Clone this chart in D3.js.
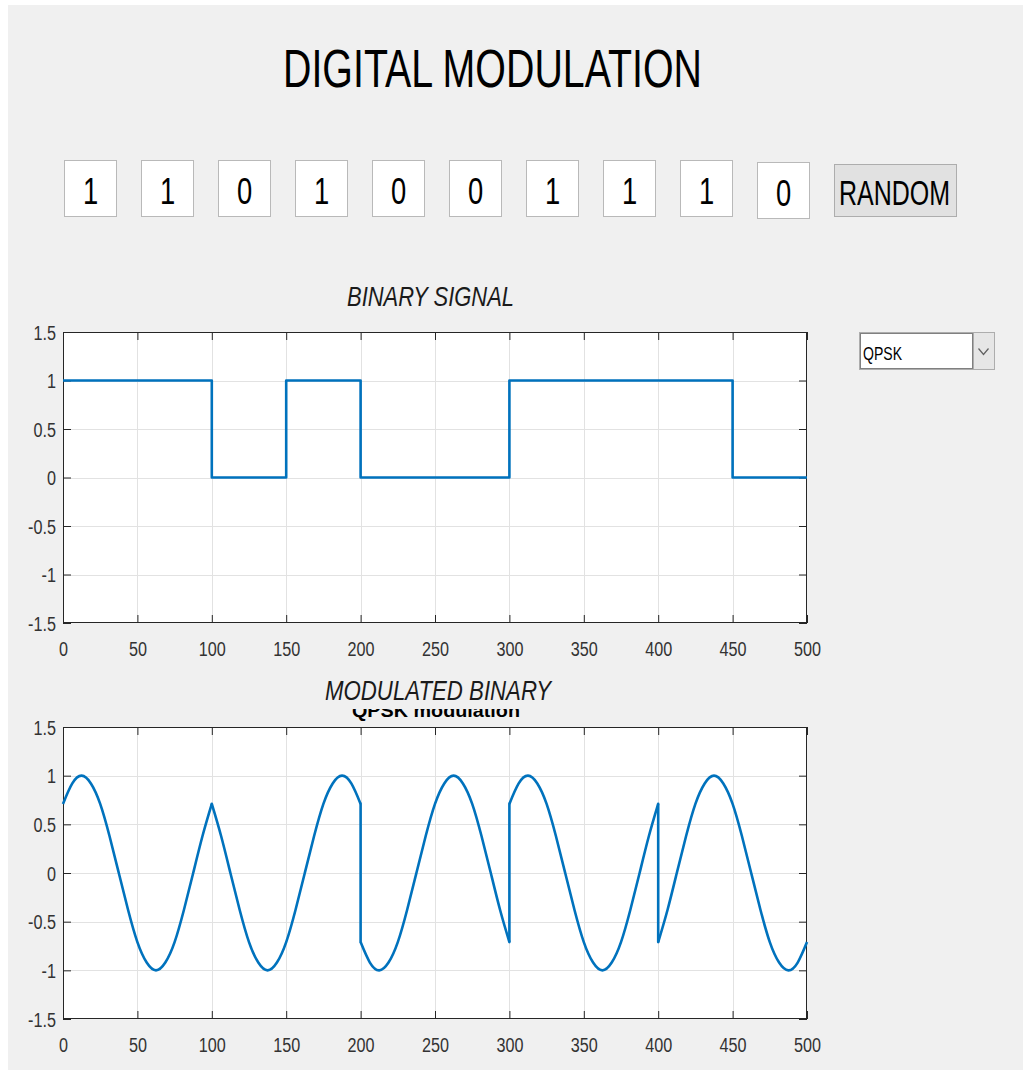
<!DOCTYPE html>
<html>
<head>
<meta charset="utf-8">
<script src="https://cdn.jsdelivr.net/npm/d3@7"></script>
<style>
  html, body { margin: 0; padding: 0; background: #ffffff; }
  svg { display: block; }
  text { font-family: "Liberation Sans", Arial, Helvetica, sans-serif; }
</style>
</head>
<body>
<svg id="chart" width="1023" height="1071"></svg>
<script>
// ---------------- data ----------------
const pageTitle = "DIGITAL MODULATION";
const bits = [1, 1, 0, 1, 0, 0, 1, 1, 1, 0];
const samplesPerBit = 50;
const buttonLabel = "RANDOM";
const modulationChoice = "QPSK";
const binaryTitle = "BINARY SIGNAL";
const modulatedTitle = "MODULATED BINARY";
const hiddenTitle = "QPSK modulation";

const xTicks = [0, 50, 100, 150, 200, 250, 300, 350, 400, 450, 500];
const yTicks = [-1.5, -1, -0.5, 0, 0.5, 1, 1.5];
const xDomain = [0, 500];
const yDomain = [-1.5, 1.5];

// QPSK waveform values, one array per symbol (100 samples each),
// read every 6.25 samples across the symbol
const symbolOffsets = [0, 6.25, 12.5, 18.75, 25, 31.25, 37.5, 43.75, 50, 56.25, 62.5, 68.75, 75, 81.25, 87.5, 93.75, 100];
const symbolStarts = [0, 100, 200, 300, 400];
const symbol1 = [0.71, 0.92, 1, 0.92, 0.71, 0.38, 0, -0.38, -0.71, -0.92, -1, -0.92, -0.71, -0.38, 0, 0.38, 0.71];
const symbol2 = [0.71, 0.38, 0, -0.38, -0.71, -0.92, -1, -0.92, -0.71, -0.38, 0, 0.38, 0.71, 0.92, 1, 0.92, 0.71];
const symbol3 = [-0.71, -0.92, -1, -0.92, -0.71, -0.38, 0, 0.38, 0.71, 0.92, 1, 0.92, 0.71, 0.38, 0, -0.38, -0.71];
const symbol4 = [0.71, 0.92, 1, 0.92, 0.71, 0.38, 0, -0.38, -0.71, -0.92, -1, -0.92, -0.71, -0.38, 0, 0.38, 0.71];
const symbol5 = [-0.71, -0.38, 0, 0.38, 0.71, 0.92, 1, 0.92, 0.71, 0.38, 0, -0.38, -0.71, -0.92, -1, -0.92, -0.71];
const symbols = [symbol1, symbol2, symbol3, symbol4, symbol5];

// ---------------- drawing ----------------
const svg = d3.select("#chart");
const LINE = "#0072BD";
const AX = "#262626";
const GRID = "#e2e2e2";
const TSX = 0.81; // horizontal squeeze of tick label glyphs

// panel background
svg.append("rect").attr("x", 8).attr("y", 5).attr("width", 1015).attr("height", 1065).attr("fill", "#f0f0f0");

// title
svg.append("text").attr("x", 283).attr("y", 87)
  .attr("font-size", 53).attr("fill", "#000")
  .attr("textLength", 419).attr("lengthAdjust", "spacingAndGlyphs")
  .text(pageTitle);

// bit boxes
const boxX = d3.scaleLinear().domain([0, 9]).range([63.5, 756.5]);
const boxes = svg.append("g");
bits.forEach((b, i) => {
  const y0 = i === 9 ? 162.5 : 160.5;
  const x0 = Math.round(boxX(i)) + 0.5;
  boxes.append("rect").attr("x", x0).attr("y", y0).attr("width", 52).attr("height", 56)
    .attr("fill", "#fff").attr("stroke", "#b9b9b9").attr("stroke-width", 1);
  boxes.append("text")
    .attr("transform", `translate(${x0 + 26},${y0 + 43}) scale(0.74,1)`)
    .attr("text-anchor", "middle").attr("font-size", 37).attr("fill", "#000")
    .text(String(b));
});

// RANDOM button
svg.append("rect").attr("x", 834.5).attr("y", 164.5).attr("width", 122).attr("height", 52)
  .attr("fill", "#e1e1e1").attr("stroke", "#adadad");
svg.append("text").attr("x", 839).attr("y", 205)
  .attr("font-size", 35).attr("fill", "#000")
  .attr("textLength", 111).attr("lengthAdjust", "spacingAndGlyphs")
  .text(buttonLabel);

// dropdown
svg.append("rect").attr("x", 859.5).attr("y", 332.5).attr("width", 135).attr("height", 37)
  .attr("fill", "#fff").attr("stroke", "#adadad");
svg.append("rect").attr("x", 973.5).attr("y", 332.5).attr("width", 21).attr("height", 37)
  .attr("fill", "#e6e6e6").attr("stroke", "#adadad");
svg.append("rect").attr("x", 860.5).attr("y", 333.5).attr("width", 112).attr("height", 35)
  .attr("fill", "none").attr("stroke", "#000").attr("stroke-dasharray", "1,1");
svg.append("text").attr("x", 863).attr("y", 360)
  .attr("font-size", 19).attr("fill", "#000")
  .attr("textLength", 39).attr("lengthAdjust", "spacingAndGlyphs")
  .text(modulationChoice);
svg.append("path").attr("d", "M978.5,348.5 L983.5,354.5 L988.5,348.5")
  .attr("fill", "none").attr("stroke", "#606060").attr("stroke-width", 1.2);

// hidden, partly covered subtitle (only a thin strip shows)
svg.append("clipPath").attr("id", "hidclip").append("rect")
  .attr("x", 300).attr("y", 709).attr("width", 260).attr("height", 17);
svg.append("text").attr("clip-path", "url(#hidclip)")
  .attr("x", 352).attr("y", 717)
  .attr("font-size", 19).attr("font-weight", "bold").attr("fill", "#000")
  .attr("textLength", 168).attr("lengthAdjust", "spacingAndGlyphs")
  .text(hiddenTitle);

function drawAxes(top, bottom, title, titleX, titleW, titleY) {
  const x = d3.scaleLinear().domain(xDomain).range([63, 807]);
  const y = d3.scaleLinear().domain(yDomain).range([bottom, top]);
  const g = svg.append("g");

  g.append("rect").attr("x", 63).attr("y", top).attr("width", 744).attr("height", bottom - top)
    .attr("fill", "#fff");

  // grid
  g.append("g").selectAll("line").data(xTicks.slice(1, -1)).join("line")
    .attr("x1", d => Math.round(x(d)) + 0.5).attr("x2", d => Math.round(x(d)) + 0.5)
    .attr("y1", top).attr("y2", bottom).attr("stroke", GRID);
  g.append("g").selectAll("line").data(yTicks.slice(1, -1)).join("line")
    .attr("y1", d => Math.round(y(d)) + 0.5).attr("y2", d => Math.round(y(d)) + 0.5)
    .attr("x1", 63).attr("x2", 807).attr("stroke", GRID);

  // axes (ticks inward)
  const ax = g.append("g").attr("transform", `translate(0,${bottom})`)
    .call(d3.axisBottom(x).tickValues(xTicks).tickSizeInner(-8).tickSizeOuter(0).tickFormat(d => String(d)));
  const at = g.append("g").attr("transform", `translate(0,${top})`)
    .call(d3.axisTop(x).tickValues(xTicks).tickSizeInner(-8).tickSizeOuter(0).tickFormat(""));
  const al = g.append("g").attr("transform", `translate(63,0)`)
    .call(d3.axisLeft(y).tickValues(yTicks).tickSizeInner(-8).tickSizeOuter(0).tickFormat(d => String(d)));
  const ar = g.append("g").attr("transform", `translate(807,0)`)
    .call(d3.axisRight(y).tickValues(yTicks).tickSizeInner(-8).tickSizeOuter(0).tickFormat(""));
  [ax, at, al, ar].forEach(a => {
    a.select(".domain").remove();
    a.selectAll(".tick line").attr("stroke", AX);
    a.selectAll("text").attr("font-family", "Liberation Sans, Arial, sans-serif").attr("font-size", 20).attr("fill", "#333");
  });
  ax.selectAll(".tick text").attr("y", 33).attr("dy", null).attr("transform", `scale(${TSX},1)`);
  al.selectAll(".tick text").attr("x", -7 / TSX).attr("dy", "0.36em").attr("transform", `scale(${TSX},1)`);

  g.append("rect").attr("x", 63.5).attr("y", top + 0.5).attr("width", 743).attr("height", bottom - top - 1)
    .attr("fill", "none").attr("stroke", AX).attr("stroke-width", 1);

  // title
  svg.append("text").attr("x", titleX).attr("y", titleY)
    .attr("font-size", 28).attr("font-style", "italic").attr("fill", "#1a1a1a")
    .attr("textLength", titleW).attr("lengthAdjust", "spacingAndGlyphs")
    .text(title);

  return { x, y, g };
}

// ---- binary signal ----
const p1 = drawAxes(332, 623, binaryTitle, 347, 167, 306);
const stepPts = [];
bits.forEach((b, i) => { stepPts.push([i * samplesPerBit, b]); stepPts.push([(i + 1) * samplesPerBit, b]); });
p1.g.append("path").datum(stepPts)
  .attr("d", d3.line().x(d => p1.x(d[0])).y(d => p1.y(d[1])))
  .attr("fill", "none").attr("stroke", LINE).attr("stroke-width", 2.6).attr("stroke-linejoin", "round");

// ---- modulated signal ----
const p2 = drawAxes(727, 1019, modulatedTitle, 325, 226, 700);
const segLine = d3.line().x(d => p2.x(d[0])).y(d => p2.y(d[1])).curve(d3.curveNatural);
const plainLine = d3.line().x(d => p2.x(d[0])).y(d => p2.y(d[1]));
symbols.forEach((vals, s) => {
  const pts = vals.map((v, k) => [symbolStarts[s] + symbolOffsets[k], v]);
  p2.g.append("path").datum(pts).attr("d", segLine)
    .attr("fill", "none").attr("stroke", LINE).attr("stroke-width", 2.6).attr("stroke-linejoin", "round");
  if (s > 0) {
    const prev = symbols[s - 1];
    const joint = [[symbolStarts[s], prev[prev.length - 1]], [symbolStarts[s], vals[0]]];
    p2.g.append("path").datum(joint).attr("d", plainLine)
      .attr("fill", "none").attr("stroke", LINE).attr("stroke-width", 2.6).attr("stroke-linecap", "round");
  }
});
</script>
</body>
</html>
